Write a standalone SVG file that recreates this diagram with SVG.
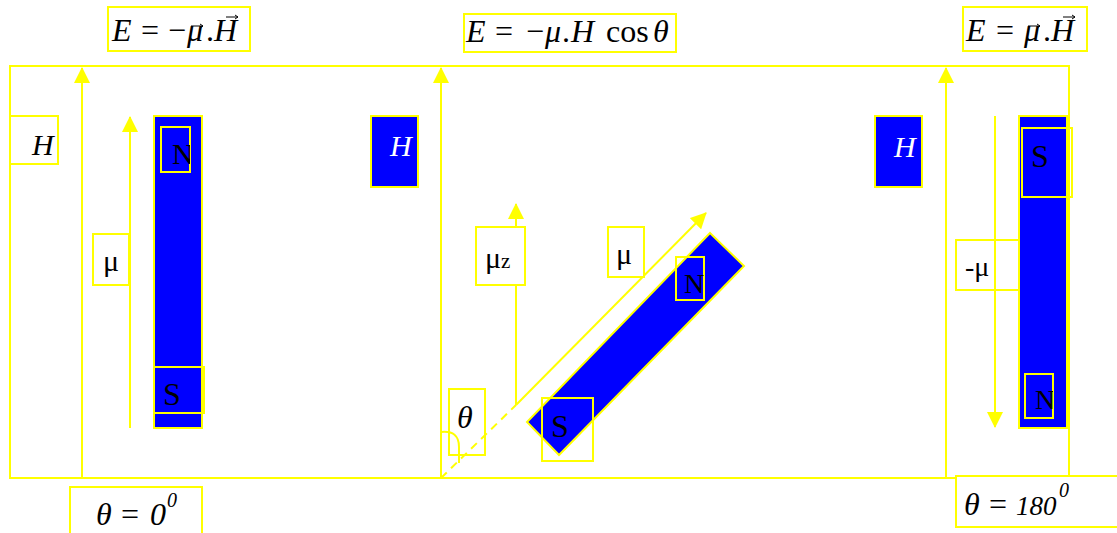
<svg xmlns="http://www.w3.org/2000/svg" width="1117" height="533" viewBox="0 0 1117 533">
<style>
.y{fill:none;stroke:#ffff00;stroke-width:2}
.bx{fill:#ffffff;stroke:#ffff00;stroke-width:2}
.bl{fill:#0000ff;stroke:#ffff00;stroke-width:2}
.ln{stroke:#ffff00;stroke-width:2;fill:none}
.ar{stroke:#ffff00;stroke-width:2;fill:none;marker-end:url(#ah)}
.dash{stroke:#ffff00;stroke-width:2;fill:none;stroke-dasharray:8,6}
.vec{stroke:#000000;stroke-width:1;fill:none}
text{font-family:"Liberation Serif","Times New Roman",serif;fill:#000000}
.it{font-style:italic}
.w{fill:#ffffff}
.f{font-size:32px}
.l{font-size:30px}
</style>
<defs>
<marker id="ah" markerUnits="userSpaceOnUse" markerWidth="16" markerHeight="16" refX="15" refY="8" orient="auto">
<path d="M0,0 L16,8 L0,16 z" fill="#ffff00"/>
</marker>
<clipPath id="cN1"><rect x="161" y="127" width="29" height="45"/></clipPath>
<clipPath id="cN2"><rect x="676" y="257" width="28" height="43"/></clipPath>
<clipPath id="cN3"><rect x="1025" y="374" width="28" height="44"/></clipPath>
</defs>

<g id="frame">
<rect class="y" x="10" y="66" width="1059" height="412"/>
</g>

<g id="formula-left">
<rect class="bx" x="108" y="7" width="142" height="44"/>
<text class="f" y="41"><tspan class="it" x="112">E</tspan><tspan x="141">=</tspan><tspan x="168">−</tspan><tspan class="it" x="187">μ</tspan><tspan x="206">.</tspan><tspan class="it" x="214">H</tspan></text>
<path class="vec" d="M191,26 L203,26 M200,24 L203,26 L200,28"/>
<path class="vec" d="M226,17 L238,17 M235,15 L238,17 L235,19"/>
</g>
<g id="formula-mid">
<rect class="bx" x="464" y="14" width="212" height="38"/>
<text class="f" y="42"><tspan class="it" x="466">E</tspan><tspan x="495">=</tspan><tspan x="526">−</tspan><tspan class="it" x="545">μ</tspan><tspan x="562">.</tspan><tspan class="it" x="571">H</tspan><tspan x="606">cos</tspan><tspan class="it" x="653">θ</tspan></text>
</g>
<g id="formula-right">
<rect class="bx" x="963" y="7" width="124" height="44"/>
<text class="f" y="41"><tspan class="it" x="966">E</tspan><tspan x="996">=</tspan><tspan class="it" x="1024">μ</tspan><tspan x="1043">.</tspan><tspan class="it" x="1051">H</tspan></text>
<path class="vec" d="M1028,26 L1040,26 M1037,24 L1040,26 L1037,28"/>
<path class="vec" d="M1063,17 L1075,17 M1072,15 L1075,17 L1072,19"/>
</g>

<g id="connectors">
<line class="ar" x1="82" y1="478" x2="82" y2="68"/>
<line class="ar" x1="130" y1="428" x2="130" y2="117"/>
<line class="ar" x1="441" y1="478" x2="441" y2="68"/>
<line class="ar" x1="516" y1="405" x2="516" y2="204"/>
<line class="dash" x1="441" y1="478" x2="516" y2="405"/>
<line class="ar" x1="516" y1="405" x2="706" y2="213"/>
<line class="ar" x1="946" y1="478" x2="946" y2="68"/>
<line class="ar" x1="995" y1="116" x2="995" y2="427"/>
<path class="ln" d="M441,432 Q459,430 459,447 L459,463"/>
</g>

<g id="label-H-left">
<rect class="bx" x="10" y="116" width="48" height="48"/>
<text class="it l" x="32" y="155">H</text>
</g>
<g id="label-mu-left">
<rect class="bx" x="93" y="234" width="36" height="51"/>
<text class="l" x="103" y="271">μ</text>
</g>
<g id="magnet-left">
<rect class="bl" x="154" y="116" width="48" height="312"/>
<rect class="y" x="161" y="127" width="29" height="45"/>
<text class="l" x="172" y="164" clip-path="url(#cN1)">N</text>
<rect class="y" x="154" y="367" width="50" height="46"/>
<text class="f" x="163" y="405">S</text>
</g>
<g id="theta-0">
<rect class="bx" x="70" y="487" width="132" height="60"/>
<text class="f" y="525"><tspan class="it" x="96">θ</tspan><tspan x="121">=</tspan><tspan class="it" x="150">0</tspan><tspan class="it" x="167" y="507" font-size="20">0</tspan></text>
</g>

<g id="field-mid">
<rect class="bl" x="371" y="116" width="47" height="71"/>
<text class="it l w" x="390" y="156">H</text>
</g>
<g id="label-muz">
<rect class="bx" x="476" y="227" width="49" height="58"/>
<text x="485" y="268" font-size="30">μ<tspan font-size="21">z</tspan></text>
</g>
<g id="label-mu-mid">
<rect class="bx" x="608" y="227" width="36" height="50"/>
<text x="616" y="264" font-size="30">μ</text>
</g>
<g id="magnet-mid">
<polygon class="bl" points="710,233 744,266 559,455 527,422"/>
<rect class="y" x="676" y="257" width="28" height="43"/>
<text font-size="28" x="684" y="293" clip-path="url(#cN2)">N</text>
<rect class="y" x="542" y="398" width="51" height="63"/>
<text class="f" x="551" y="437">S</text>
</g>
<g id="label-theta">
<rect class="y" x="449" y="389" width="36" height="66"/>
<text class="it f" x="457" y="428">θ</text>
</g>

<g id="field-right">
<rect class="bl" x="875" y="116" width="47" height="71"/>
<text class="it l w" x="894" y="157">H</text>
</g>
<g id="label-minus-mu">
<rect class="y" x="956" y="240" width="72" height="50"/>
<text font-size="28" x="965" y="276">-μ</text>
</g>
<g id="magnet-right">
<rect class="bl" x="1019" y="116" width="48" height="312"/>
<rect class="y" x="1022" y="128" width="50" height="69"/>
<text class="f" x="1031" y="167">S</text>
<rect class="y" x="1025" y="374" width="28" height="44"/>
<text font-size="28" x="1035" y="409" clip-path="url(#cN3)">N</text>
</g>
<g id="theta-180">
<rect class="bx" x="956" y="476" width="170" height="51"/>
<text class="f" y="515"><tspan class="it" x="964">θ</tspan><tspan x="989">=</tspan><tspan class="it" x="1016" font-size="27">180</tspan><tspan class="it" x="1059" y="497" font-size="20">0</tspan></text>
</g>
</svg>
